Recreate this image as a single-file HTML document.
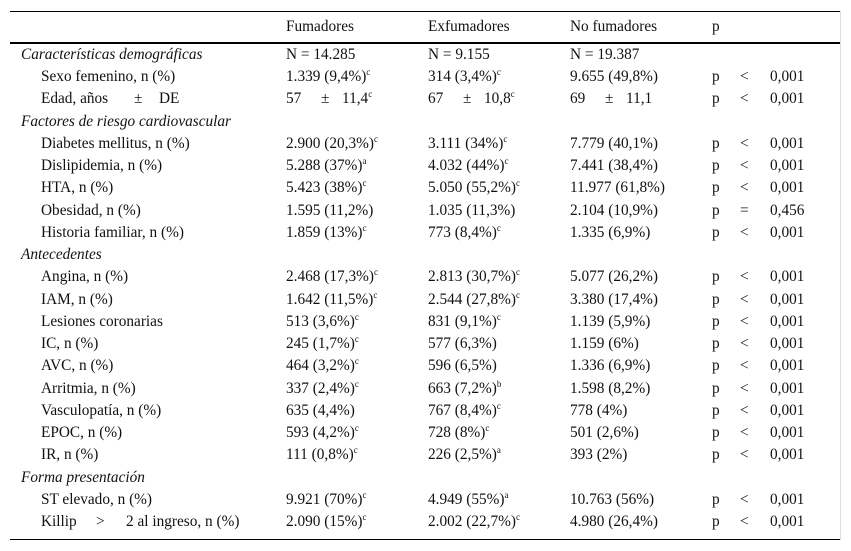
<!DOCTYPE html>
<html><head><meta charset="utf-8"><style>
body{margin:0;background:#fff;width:851px;height:551px;position:relative;overflow:hidden;font-family:"Liberation Serif",serif;font-size:15.3px;color:#111}
.t{position:absolute;white-space:nowrap;line-height:16px}
.i{font-style:italic}
sup{font-size:9px;vertical-align:6px;line-height:0}
.ln{position:absolute;left:10px;width:830px;background:#000}
</style></head><body>
<div class="ln" style="top:11px;height:1px"></div>
<div class="ln" style="top:42px;height:2px"></div>
<div class="ln" style="top:539px;height:1px"></div>
<div style="position:absolute;left:840px;top:11px;width:1px;height:529px;background:#ddd"></div>
<div id="tbl"></div>
<script>
const headers=["Fumadores","Exfumadores","No fumadores","p"];
const rows=[
["s","Características demográficas","N = 14.285","N = 9.155","N = 19.387",""],
["r","Sexo femenino, n (%)","1.339 (9,4%)<sup>c</sup>","314 (3,4%)<sup>c</sup>","9.655 (49,8%)","<|0,001"],
["r","Edad, años|±|DE","57|±|11,4<sup>c</sup>","67|±|10,8<sup>c</sup>","69|±|11,1","<|0,001"],
["s","Factores de riesgo cardiovascular","","","",""],
["r","Diabetes mellitus, n (%)","2.900 (20,3%)<sup>c</sup>","3.111 (34%)<sup>c</sup>","7.779 (40,1%)","<|0,001"],
["r","Dislipidemia, n (%)","5.288 (37%)<sup>a</sup>","4.032 (44%)<sup>c</sup>","7.441 (38,4%)","<|0,001"],
["r","HTA, n (%)","5.423 (38%)<sup>c</sup>","5.050 (55,2%)<sup>c</sup>","11.977 (61,8%)","<|0,001"],
["r","Obesidad, n (%)","1.595 (11,2%)","1.035 (11,3%)","2.104 (10,9%)","=|0,456"],
["r","Historia familiar, n (%)","1.859 (13%)<sup>c</sup>","773 (8,4%)<sup>c</sup>","1.335 (6,9%)","<|0,001"],
["s","Antecedentes","","","",""],
["r","Angina, n (%)","2.468 (17,3%)<sup>c</sup>","2.813 (30,7%)<sup>c</sup>","5.077 (26,2%)","<|0,001"],
["r","IAM, n (%)","1.642 (11,5%)<sup>c</sup>","2.544 (27,8%)<sup>c</sup>","3.380 (17,4%)","<|0,001"],
["r","Lesiones coronarias","513 (3,6%)<sup>c</sup>","831 (9,1%)<sup>c</sup>","1.139 (5,9%)","<|0,001"],
["r","IC, n (%)","245 (1,7%)<sup>c</sup>","577 (6,3%)","1.159 (6%)","<|0,001"],
["r","AVC, n (%)","464 (3,2%)<sup>c</sup>","596 (6,5%)","1.336 (6,9%)","<|0,001"],
["r","Arritmia, n (%)","337 (2,4%)<sup>c</sup>","663 (7,2%)<sup>b</sup>","1.598 (8,2%)","<|0,001"],
["r","Vasculopatía, n (%)","635 (4,4%)","767 (8,4%)<sup>c</sup>","778 (4%)","<|0,001"],
["r","EPOC, n (%)","593 (4,2%)<sup>c</sup>","728 (8%)<sup>c</sup>","501 (2,6%)","<|0,001"],
["r","IR, n (%)","111 (0,8%)<sup>c</sup>","226 (2,5%)<sup>a</sup>","393 (2%)","<|0,001"],
["s","Forma presentación","","","",""],
["r","ST elevado, n (%)","9.921 (70%)<sup>c</sup>","4.949 (55%)<sup>a</sup>","10.763 (56%)","<|0,001"],
["r","Killip|>|2 al ingreso, n (%)","2.090 (15%)<sup>c</sup>","2.002 (22,7%)<sup>c</sup>","4.980 (26,4%)","<|0,001"]
];
const tbl=document.getElementById('tbl');
function put(x,y,html,cls,name){
  const d=document.createElement('div');
  d.className='t'+(cls?' '+cls:'');
  d.style.left=x+'px';d.style.top=(y-8)+'px';
  d.innerHTML=html;
  
  
  tbl.appendChild(d);
}
const colX=[286,428,570,712];
headers.forEach((h,i)=>put(colX[i],27,h,'','column-header'));
rows.forEach((r,k)=>{
  const y=55+k*22.24;
  if(r[0]==='s'){put(21,y,r[1],'i','section-title');}
  else{
    const p=r[1].split('|');
    put(41,y,p[0],'','row-label');
    if(p.length>1){const K=p[0].startsWith('Killip');put(K?96:134,y,p[1],'','row-label-symbol');put(K?126:159,y,p[2],'','row-label-suffix');}
  }
  for(let c=0;c<3;c++){
    const v=r[2+c];if(!v)continue;
    const q=v.split('|');
    if(q.length>1){put(colX[c],y,q[0],'','cell-mean');put(colX[c]+35,y,q[1],'','cell-pm');put(colX[c]+56,y,q[2],'','cell-sd');}
    else put(colX[c],y,v,'','cell-value');
  }
  if(r[5]){const q=r[5].split('|');put(712,y,'p','','p-label');put(740,y,q[0],'','p-operator');put(770,y,q[1],'','p-value');}
});
</script>
</body></html>
